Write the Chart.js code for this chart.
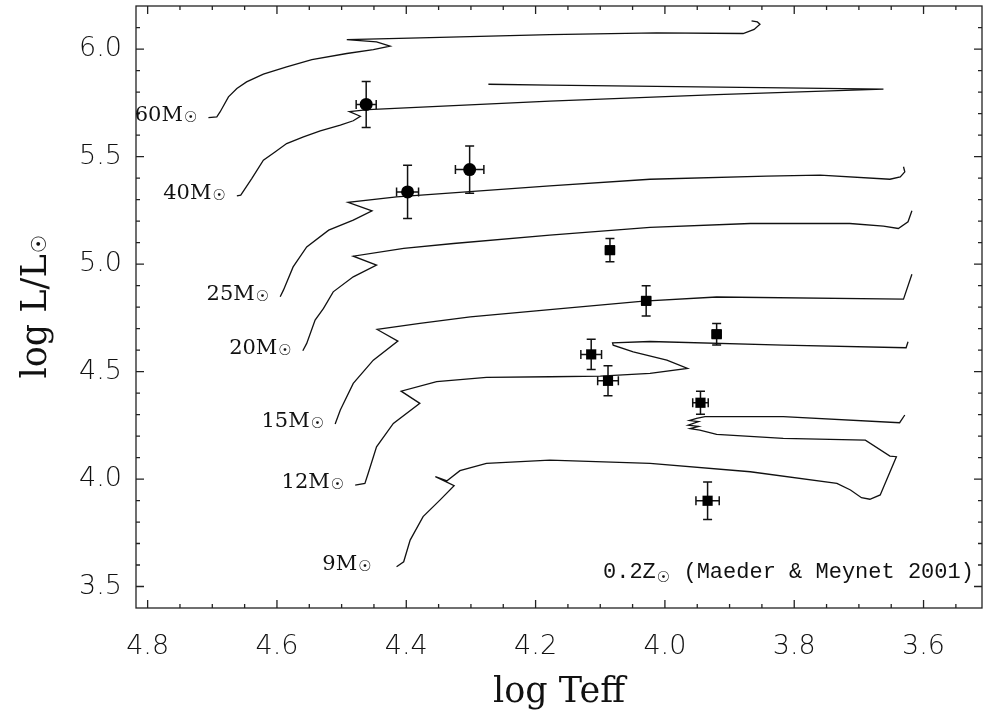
<!DOCTYPE html>
<html>
<head>
<meta charset="utf-8">
<title>HR diagram – 0.2 Z☉ tracks</title>
<script src="https://cdn.jsdelivr.net/npm/chart.js@4.4.1/dist/chart.umd.min.js"></script>
<style>
  html, body { margin: 0; padding: 0; background: #fff; }
  canvas { display: block; }
</style>
</head>
<body>
<canvas id="hrChart" width="983" height="715"></canvas>
<script>
// Evolutionary tracks (log Teff, log L/Lsun)
const m60Teff = [4.706, 4.693, 4.688, 4.675, 4.662, 4.647, 4.621, 4.585, 4.546, 4.492, 4.451, 4.425, 4.446, 4.492, 4.379, 4.178, 4.013, 3.879, 3.862, 3.853, 3.857, 3.866];
const m60Lum  = [5.682, 5.685, 5.708, 5.778, 5.817, 5.848, 5.884, 5.918, 5.952, 5.980, 5.998, 6.014, 6.034, 6.045, 6.053, 6.068, 6.076, 6.073, 6.092, 6.116, 6.127, 6.132];

const m40Teff = [4.662, 4.656, 4.639, 4.621, 4.603, 4.585, 4.559, 4.533, 4.502, 4.482, 4.471, 4.488, 4.459, 4.178, 3.920, 3.662, 3.817, 4.178, 4.273];
const m40Lum  = [5.318, 5.321, 5.398, 5.484, 5.522, 5.561, 5.592, 5.620, 5.647, 5.667, 5.688, 5.710, 5.719, 5.758, 5.789, 5.814, 5.820, 5.833, 5.837];

const m25Teff = [4.595, 4.590, 4.575, 4.554, 4.520, 4.482, 4.453, 4.490, 4.415, 4.178, 4.023, 3.843, 3.760, 3.652, 3.636, 3.629, 3.631];
const m25Lum  = [4.848, 4.879, 4.987, 5.080, 5.158, 5.205, 5.248, 5.287, 5.313, 5.364, 5.395, 5.409, 5.414, 5.395, 5.406, 5.429, 5.453];

const m20Teff = [4.560, 4.554, 4.541, 4.528, 4.513, 4.482, 4.446, 4.482, 4.404, 4.327, 4.178, 4.023, 3.868, 3.714, 3.662, 3.639, 3.624, 3.618];
const m20Lum  = [4.597, 4.631, 4.740, 4.794, 4.871, 4.941, 4.995, 5.037, 5.073, 5.096, 5.135, 5.171, 5.189, 5.189, 5.177, 5.166, 5.197, 5.248];

const m15Teff = [4.510, 4.502, 4.482, 4.451, 4.413, 4.445, 4.379, 4.301, 4.178, 4.033, 3.920, 3.631, 3.618];
const m15Lum  = [4.256, 4.321, 4.445, 4.553, 4.642, 4.696, 4.724, 4.755, 4.788, 4.828, 4.847, 4.837, 4.953];

const m12Teff = [4.479, 4.464, 4.459, 4.446, 4.420, 4.379, 4.408, 4.353, 4.276, 4.178, 4.100, 4.023, 3.965, 3.997, 4.049, 4.080, 4.081, 4.023, 3.817, 3.627, 3.624];
const m12Lum  = [3.972, 3.980, 4.026, 4.150, 4.259, 4.352, 4.409, 4.453, 4.473, 4.476, 4.479, 4.492, 4.515, 4.553, 4.592, 4.623, 4.634, 4.640, 4.623, 4.611, 4.639];

const m9Teff = [4.415, 4.404, 4.394, 4.374, 4.348, 4.326, 4.355, 4.337, 4.317, 4.276, 4.178, 4.023, 3.868, 3.734, 3.713, 3.696, 3.683, 3.667, 3.642, 3.652, 3.690, 3.817, 3.920, 3.946, 3.961, 3.948, 3.964, 3.948, 3.962, 3.951, 3.938, 3.817, 3.637, 3.629];
const m9Lum  = [3.592, 3.615, 3.716, 3.825, 3.902, 3.969, 4.011, 3.992, 4.039, 4.073, 4.088, 4.073, 4.034, 3.980, 3.949, 3.913, 3.906, 3.926, 4.104, 4.107, 4.181, 4.189, 4.208, 4.228, 4.235, 4.245, 4.251, 4.267, 4.272, 4.282, 4.290, 4.290, 4.262, 4.298];

// Observed stars with error bars
const circleTeff    = [4.462, 4.398, 4.302];
const circleLum     = [5.743, 5.336, 5.440];
const circleTeffErr = [0.0155, 0.017, 0.022];
const circleLumErr  = [0.107, 0.124, 0.110];

const squareTeff    = [4.085, 4.029, 3.920, 4.114, 4.088, 3.945, 3.934];
const squareLum     = [5.065, 4.829, 4.674, 4.580, 4.457, 4.355, 3.899];
const squareTeffErr = [0.007, 0.007, 0.007, 0.016, 0.016, 0.012, 0.018];
const squareLumErr  = [0.054, 0.070, 0.050, 0.070, 0.070, 0.054, 0.087];

const xTickValues = [4.8, 4.6, 4.4, 4.2, 4.0, 3.8, 3.6];
const yTickValues = [3.5, 4.0, 4.5, 5.0, 5.5, 6.0];

const tracks = [
  { mass: '60M', teff: m60Teff, lum: m60Lum },
  { mass: '40M', teff: m40Teff, lum: m40Lum },
  { mass: '25M', teff: m25Teff, lum: m25Lum },
  { mass: '20M', teff: m20Teff, lum: m20Lum },
  { mass: '15M', teff: m15Teff, lum: m15Lum },
  { mass: '12M', teff: m12Teff, lum: m12Lum },
  { mass: '9M',  teff: m9Teff,  lum: m9Lum }
];

const INK = '#111';
const SUN = '\u2609';
const toPoints = (xs, ys) => xs.map((v, i) => ({ x: v, y: ys[i] }));

// scales: fixed box sizes, no extra padding for the end labels
function fixBox(size, horizontal) {
  return s => {
    if (horizontal) s.height = size; else s.width = size;
    s.paddingTop = 0; s.paddingBottom = 0;
    s.paddingLeft = 0; s.paddingRight = 0;
  };
}

// error bars drawn under the markers
const errorBars = {
  id: 'errorBars',
  beforeDatasetsDraw(chart) {
    const { ctx, scales: { x, y } } = chart;
    const cap = 4.5;
    ctx.save();
    ctx.strokeStyle = INK;
    ctx.lineWidth = 1.5;
    chart.data.datasets.forEach(ds => {
      if (!ds.errX) return;
      ds.data.forEach((p, i) => {
        const px = x.getPixelForValue(p.x);
        const py = y.getPixelForValue(p.y);
        const y1 = y.getPixelForValue(p.y - ds.errY[i]);
        const y2 = y.getPixelForValue(p.y + ds.errY[i]);
        const x1 = x.getPixelForValue(p.x - ds.errX[i]);
        const x2 = x.getPixelForValue(p.x + ds.errX[i]);
        ctx.beginPath();
        ctx.moveTo(px, y1); ctx.lineTo(px, y2);
        ctx.moveTo(px - cap, y1); ctx.lineTo(px + cap, y1);
        ctx.moveTo(px - cap, y2); ctx.lineTo(px + cap, y2);
        ctx.moveTo(x1, py); ctx.lineTo(x2, py);
        ctx.moveTo(x1, py - cap); ctx.lineTo(x1, py + cap);
        ctx.moveTo(x2, py - cap); ctx.lineTo(x2, py + cap);
        ctx.stroke();
      });
    });
    ctx.restore();
  }
};

// text with a small solar symbol after it
function textWithSun(ctx, str, font, sunFont, x, base, sunDrop, gapAfter) {
  ctx.font = font;
  ctx.fillText(str, x, base);
  const w = ctx.measureText(str).width;
  ctx.font = sunFont;
  ctx.fillText(SUN, x + w + 1, base + sunDrop);
  return x + w + 1 + ctx.measureText(SUN).width + (gapAfter || 0);
}

// IDL style box with inward ticks, plus the text annotations
const frameAndLabels = {
  id: 'frameAndLabels',
  afterDraw(chart) {
    const { ctx, chartArea: a, scales: { x, y } } = chart;
    ctx.save();
    ctx.strokeStyle = '#222';
    ctx.lineWidth = 1.3;
    ctx.strokeRect(a.left, a.top, a.right - a.left, a.bottom - a.top);

    ctx.beginPath();
    for (let k = 0; k <= 26; k++) {
      const v = 4.8 - k * 0.05;
      const px = x.getPixelForValue(v);
      if (px < a.left || px > a.right) continue;
      const len = k % 4 === 0 ? 8 : 4;
      ctx.moveTo(px, a.bottom); ctx.lineTo(px, a.bottom - len);
      ctx.moveTo(px, a.top); ctx.lineTo(px, a.top + len);
    }
    for (let k = 0; k <= 26; k++) {
      const v = 3.5 + k * 0.1;
      const py = y.getPixelForValue(v);
      if (py < a.top + 1 || py > a.bottom) continue;
      const len = k % 5 === 0 ? 8 : 4;
      ctx.moveTo(a.left, py); ctx.lineTo(a.left + len, py);
      ctx.moveTo(a.right, py); ctx.lineTo(a.right - len, py);
    }
    ctx.stroke();

    ctx.fillStyle = INK;
    ctx.textBaseline = 'alphabetic';
    ctx.textAlign = 'left';

    // mass labels, right aligned just left of each ZAMS point
    const labelFont = "21px 'DejaVu Serif', serif";
    const smallSun = "15px 'DejaVu Sans', sans-serif";
    tracks.forEach(t => {
      const px = x.getPixelForValue(t.teff[0]);
      const py = y.getPixelForValue(t.lum[0]);
      const gap = t.mass === '9M' ? 25 : 11;
      ctx.font = labelFont;
      const w1 = ctx.measureText(t.mass).width;
      ctx.font = smallSun;
      const w2 = ctx.measureText(SUN).width;
      textWithSun(ctx, t.mass, labelFont, smallSun, px - gap - w2 - w1 - 1, py + 3, 1);
    });

    // metallicity note, bottom right
    const monoFont = "22px 'Liberation Mono', monospace";
    const x0 = a.right - 379;
    const b = a.bottom - 30;
    const after = textWithSun(ctx, '0.2Z', monoFont, smallSun, x0, b, 4, 0);
    ctx.font = monoFont;
    ctx.fillText(' (Maeder & Meynet 2001)', after, b);

    // y axis title, rotated
    const titleFont = "35px 'DejaVu Serif', serif";
    ctx.font = titleFont;
    const tw = ctx.measureText('log L/L').width;
    ctx.font = "21px 'DejaVu Sans', sans-serif";
    const sw = ctx.measureText(SUN).width;
    ctx.translate(46, (a.top + a.bottom) / 2 + (tw + sw) / 2);
    ctx.rotate(-Math.PI / 2);
    textWithSun(ctx, 'log L/L', titleFont, "21px 'DejaVu Sans', sans-serif", 0, 0, 0);
    ctx.restore();
  }
};

const tickFont = { family: "'DejaVu Sans', sans-serif", size: 27, weight: 200 };
const axisTitleFont = { family: "'DejaVu Serif', serif", size: 35 };

const datasets = [
  {
    label: 'O stars',
    data: toPoints(circleTeff, circleLum),
    errX: circleTeffErr,
    errY: circleLumErr,
    pointStyle: 'circle',
    pointRadius: 6.5,
    backgroundColor: '#000',
    borderColor: '#000',
    borderWidth: 0,
    showLine: false
  },
  {
    label: 'B stars',
    data: toPoints(squareTeff, squareLum),
    errX: squareTeffErr,
    errY: squareLumErr,
    pointStyle: 'rect',
    pointRadius: 7.2,
    backgroundColor: '#000',
    borderColor: '#000',
    borderWidth: 0,
    showLine: false
  }
].concat(tracks.map(t => ({
  label: t.mass,
  data: toPoints(t.teff, t.lum),
  showLine: true,
  borderColor: INK,
  borderWidth: 1.3,
  pointRadius: 0,
  tension: 0,
  fill: false
})));

new Chart(document.getElementById('hrChart'), {
  type: 'scatter',
  data: { datasets },
  options: {
    responsive: false,
    animation: false,
    layout: { autoPadding: false, padding: { left: 0, right: 1, top: 6, bottom: 0 } },
    plugins: {
      legend: { display: false },
      tooltip: { enabled: false }
    },
    scales: {
      x: {
        type: 'linear',
        reverse: true,
        min: 3.5096,
        max: 4.818,
        afterBuildTicks: s => { s.ticks = xTickValues.map(v => ({ value: v })); },
        afterFit: fixBox(107, true),
        grid: { display: false, drawTicks: false },
        border: { display: false },
        ticks: {
          padding: 23,
          color: INK,
          font: tickFont,
          maxRotation: 0,
          callback: v => Number(v).toFixed(1)
        },
        title: {
          display: true,
          text: 'log Teff',
          color: INK,
          font: axisTitleFont,
          padding: { top: 0, bottom: 1 }
        }
      },
      y: {
        type: 'linear',
        min: 3.40,
        max: 6.201,
        afterBuildTicks: s => { s.ticks = yTickValues.map(v => ({ value: v })); },
        afterFit: fixBox(136, false),
        grid: { display: false, drawTicks: false },
        border: { display: false },
        ticks: {
          padding: 14,
          color: INK,
          font: tickFont,
          callback: v => Number(v).toFixed(1)
        }
      }
    }
  },
  plugins: [errorBars, frameAndLabels]
});
</script>
</body>
</html>
